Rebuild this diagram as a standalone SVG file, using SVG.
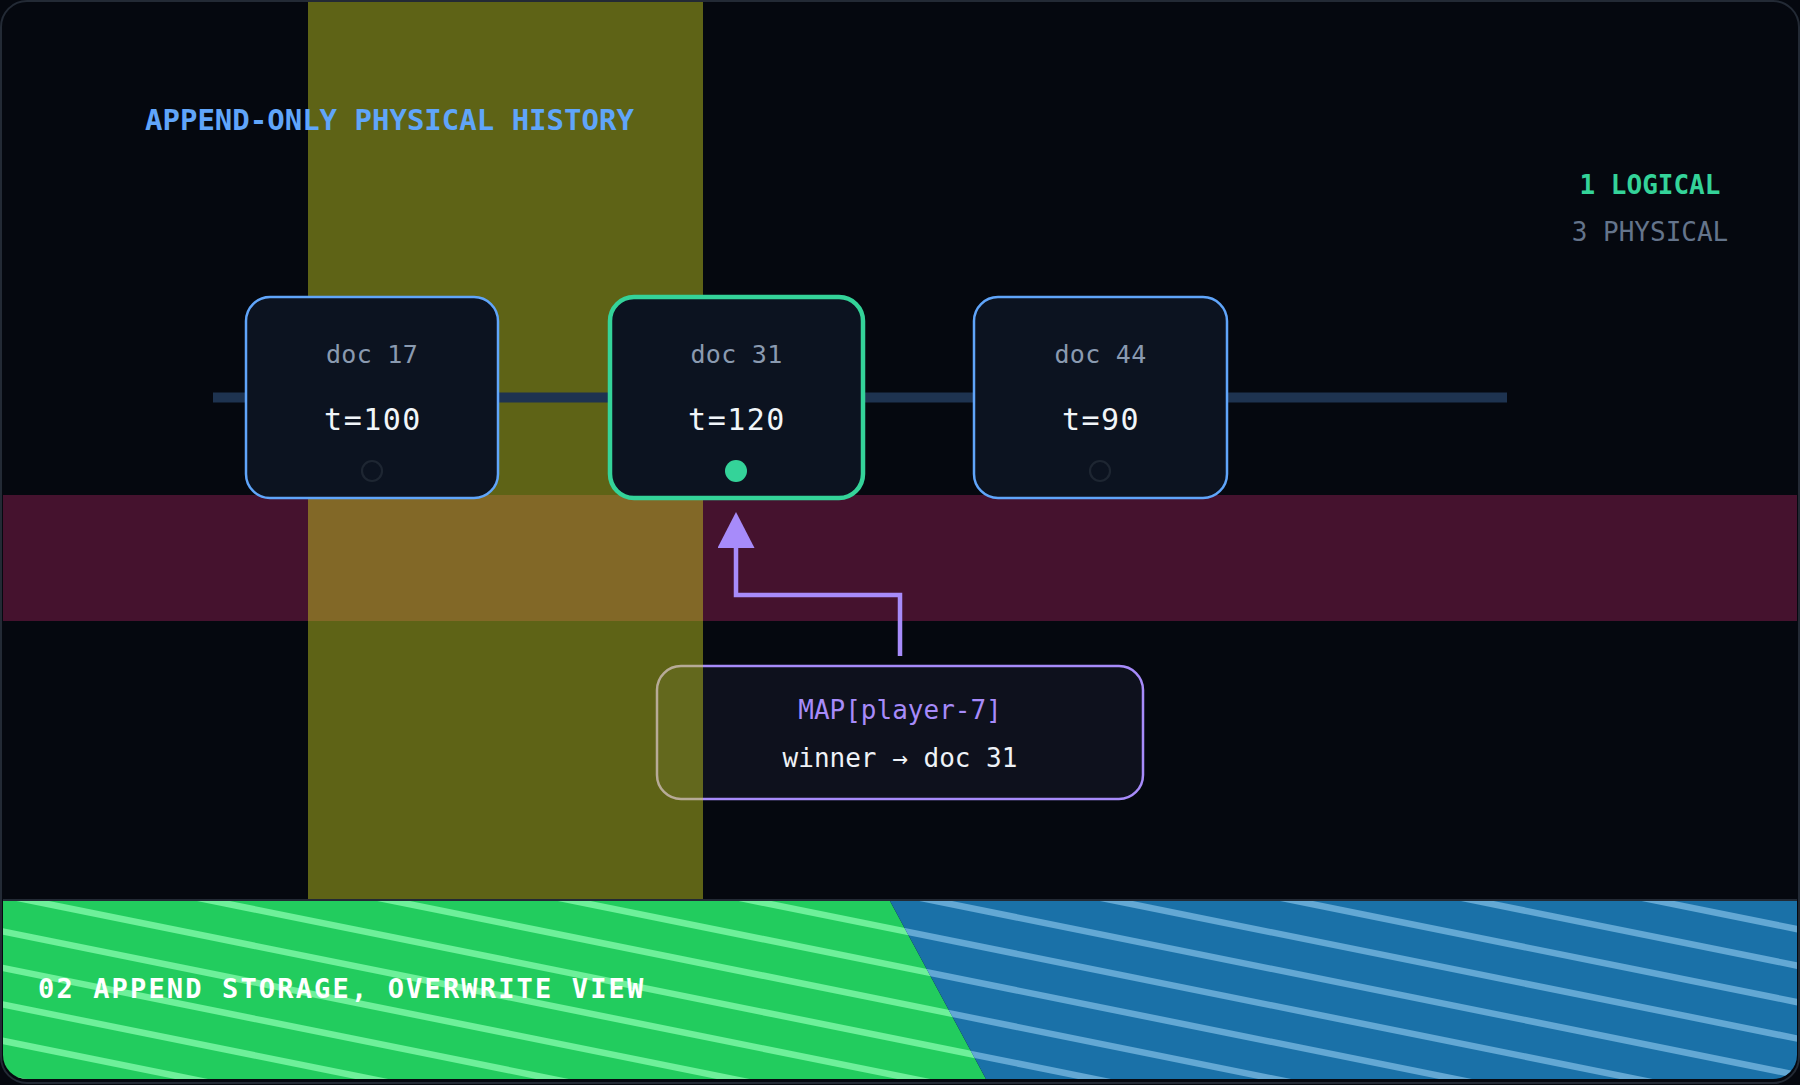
<svg xmlns="http://www.w3.org/2000/svg" width="1800" height="1085" viewBox="0 0 1800 1085">
  <style>
    .mono { font-family: "DejaVu Sans Mono", "Liberation Mono", monospace; }
    .docbox { fill: #0c1320; stroke: #60a5fa; stroke-width: 2.5; }
    .doclabel { font-size: 25px; fill: #8a9ab0; text-anchor: middle; letter-spacing: 0.3px; }
    .tlabel { font-size: 30px; fill: #f1f5f9; text-anchor: middle; letter-spacing: 1.5px; }
    .dot-off { fill: #0c1320; stroke: #1e2632; stroke-width: 2.2; }
  </style>
  <defs>
    <clipPath id="frameClip">
      <rect x="3" y="3" width="1794" height="1076" rx="24" ry="24"/>
    </clipPath>
    <clipPath id="greenClip">
      <polygon points="0,901 890,901 986,1079 0,1079"/>
    </clipPath>
    <clipPath id="blueClip">
      <polygon points="890,901 1800,901 1800,1079 986,1079"/>
    </clipPath>
    <g id="stripes" stroke-width="6.5" fill="none">
      <line x1="0" y1="529.6" x2="1800" y2="893.2"/>
      <line x1="0" y1="566.1" x2="1800" y2="929.7"/>
      <line x1="0" y1="602.6" x2="1800" y2="966.2"/>
      <line x1="0" y1="639.1" x2="1800" y2="1002.7"/>
      <line x1="0" y1="675.5" x2="1800" y2="1039.1"/>
      <line x1="0" y1="712.0" x2="1800" y2="1075.6"/>
      <line x1="0" y1="748.5" x2="1800" y2="1112.1"/>
      <line x1="0" y1="785.0" x2="1800" y2="1148.6"/>
      <line x1="0" y1="821.5" x2="1800" y2="1185.1"/>
      <line x1="0" y1="857.9" x2="1800" y2="1221.5"/>
      <line x1="0" y1="894.4" x2="1800" y2="1258.0"/>
      <line x1="0" y1="930.9" x2="1800" y2="1294.5"/>
      <line x1="0" y1="967.4" x2="1800" y2="1331.0"/>
      <line x1="0" y1="1003.9" x2="1800" y2="1367.5"/>
      <line x1="0" y1="1040.3" x2="1800" y2="1403.9"/>
      <line x1="0" y1="1076.8" x2="1800" y2="1440.4"/>
    </g>
    <marker id="arrowHead" markerUnits="userSpaceOnUse" markerWidth="36" markerHeight="37" viewBox="0 0 36 37" refX="0" refY="18.5" orient="auto">
      <path d="M0,0 L36,18.5 L0,37 Z" fill="#a78bfa"/>
    </marker>
  </defs>

  <!-- background -->
  <rect x="0" y="0" width="1800" height="1085" fill="#05080f"/>

  <g clip-path="url(#frameClip)">
    <!-- maroon band -->
    <rect x="0" y="495" width="1800" height="126" fill="#45122e"/>
  </g>

  <!-- map node (under highlight band) -->
  <g id="node-map">
    <rect x="657" y="666" width="486" height="133" rx="24" ry="24" fill="#0e111d" stroke="#a78bfa" stroke-width="2.5"/>
    <text class="mono" x="900" y="719" font-size="26" fill="#a78bfa" text-anchor="middle">MAP[player-7]</text>
    <text class="mono" x="900" y="767" font-size="26" fill="#eef2f7" text-anchor="middle">winner → doc 31</text>
  </g>

  <!-- yellow highlight band -->
  <rect x="308" y="2" width="395" height="897" fill="#cbd21f" fill-opacity="0.45"/>

  <!-- title -->
  <text class="mono" x="145" y="130" font-size="29" font-weight="bold" fill="#60a5fa">APPEND-ONLY PHYSICAL HISTORY</text>
  <text class="mono" x="1650" y="194" font-size="26" font-weight="bold" fill="#34d399" text-anchor="middle">1 LOGICAL</text>
  <text class="mono" x="1650" y="241" font-size="26" fill="#64748b" text-anchor="middle">3 PHYSICAL</text>

  <!-- connectors -->
  <g id="connectors">
    <line x1="213" y1="397.5" x2="1507" y2="397.5" stroke="#1e3350" stroke-width="10"/>
    <path d="M900,656 V595 H736 V548" fill="none" stroke="#a78bfa" stroke-width="4.5" marker-end="url(#arrowHead)"/>
  </g>

  <!-- doc nodes -->
  <g id="node-doc17">
    <rect class="docbox" x="246" y="297" width="252" height="201" rx="24" ry="24"/>
    <text class="mono doclabel" x="372" y="363">doc 17</text>
    <text class="mono tlabel" x="373" y="430">t=100</text>
    <circle class="dot-off" cx="372" cy="471" r="10"/>
  </g>
  <g id="node-doc31">
    <rect x="610" y="297" width="253" height="201" rx="24" ry="24" fill="#0c1320" stroke="#34d399" stroke-width="4.5"/>
    <text class="mono doclabel" x="736.5" y="363">doc 31</text>
    <text class="mono tlabel" x="737" y="430">t=120</text>
    <circle cx="736" cy="471" r="11" fill="#34d399"/>
  </g>
  <g id="node-doc44">
    <rect class="docbox" x="974" y="297" width="253" height="201" rx="24" ry="24"/>
    <text class="mono doclabel" x="1100.5" y="363">doc 44</text>
    <text class="mono tlabel" x="1101" y="430">t=90</text>
    <circle class="dot-off" cx="1100" cy="471" r="10"/>
  </g>

  <!-- bottom band -->
  <g clip-path="url(#frameClip)">
    <g clip-path="url(#greenClip)">
      <rect x="0" y="901" width="1800" height="184" fill="#22cc5e"/>
      <use href="#stripes" stroke="#6ef09a"/>
    </g>
    <g clip-path="url(#blueClip)">
      <rect x="0" y="901" width="1800" height="184" fill="#1a71a8"/>
      <use href="#stripes" stroke="#63a8d4"/>
    </g>
    <line x1="0" y1="900" x2="1800" y2="900" stroke="#232a35" stroke-width="2"/>
  </g>
  <text class="mono" x="38" y="998" font-size="27" font-weight="bold" fill="#ffffff" letter-spacing="2.15">02 APPEND STORAGE, OVERWRITE VIEW</text>

  <!-- frame -->
  <rect x="1" y="1" width="1798" height="1082" rx="26" ry="26" fill="none" stroke="#232a35" stroke-width="2"/>
</svg>
